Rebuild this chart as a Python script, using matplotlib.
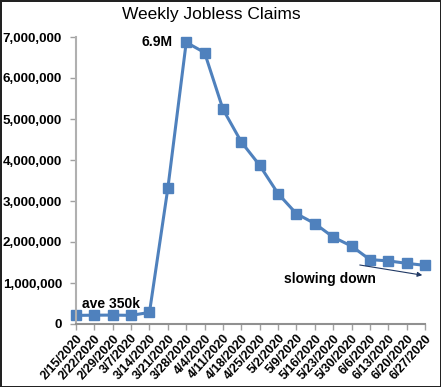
import matplotlib
matplotlib.use("Agg")
import matplotlib.pyplot as plt
from matplotlib.ticker import FuncFormatter

weeks = ["2/15/2020", "2/22/2020", "2/29/2020", "3/7/2020", "3/14/2020",
         "3/21/2020", "3/28/2020", "4/4/2020", "4/11/2020", "4/18/2020",
         "4/25/2020", "5/2/2020", "5/9/2020", "5/16/2020", "5/23/2020",
         "5/30/2020", "6/6/2020", "6/13/2020", "6/20/2020", "6/27/2020"]
claims = [210000, 215000, 217000, 211000, 282000,
          3310000, 6870000, 6620000, 5240000, 4440000,
          3870000, 3180000, 2690000, 2450000, 2120000,
          1900000, 1570000, 1540000, 1480000, 1430000]
y_ticks = [0, 1000000, 2000000, 3000000, 4000000, 5000000, 6000000, 7000000]

plt.rcParams["font.family"] = ["Liberation Sans", "DejaVu Sans"]

fig = plt.figure(figsize=(4.41, 3.87), dpi=100)
fig.patch.set_edgecolor("#222222")
fig.patch.set_linewidth(2)
ax = fig.add_axes([76 / 441, 63 / 387, 349 / 441, 287 / 387])

blue = "#4F81BD"
x = list(range(len(weeks)))
ax.plot(x, claims, color=blue, linewidth=2.2, marker="s", markersize=6.5,
        clip_on=False)

ax.set_xlim(0, len(weeks) - 1)
ax.set_ylim(0, 7000000)
ax.set_yticks(y_ticks)
ax.yaxis.set_major_formatter(FuncFormatter(lambda v, p: f"{int(v):,}"))
ax.set_xticks(x)
ax.set_xticklabels(weeks, rotation=48, ha="right", rotation_mode="anchor",
                   fontsize=9, fontweight="bold")
for lbl in ax.get_yticklabels():
    lbl.set_fontsize(9.6)
    lbl.set_fontweight("bold")

for side in ["top", "right"]:
    ax.spines[side].set_visible(False)
ax.spines["left"].set_color("#b0b0b0")
ax.spines["bottom"].set_color("#909090")
for side in ["left", "bottom"]:
    ax.spines[side].set_linewidth(1.5)
ax.tick_params(axis="both", color="#a0a0a0", length=4, width=1)
ax.tick_params(axis="x", pad=2)
ax.tick_params(axis="y", pad=6)

fig.text(211 / 441, 1 - 14 / 387, "Weekly Jobless Claims", ha="center",
         va="center", fontsize=12.5)

ax.annotate("6.9M", xy=(6, claims[6]), xytext=(-10, 0), textcoords="offset points",
            ha="right", va="center", fontsize=10, fontweight="bold")
ax.text(0.3, 500000, "ave 350k", ha="left", va="center", fontsize=10,
        fontweight="bold")
ax.text(11.3, 1100000, "slowing down", ha="left", va="center", fontsize=10,
        fontweight="bold")
ax.annotate("", xy=(19, 1180000), xytext=(15.3, 1450000),
            arrowprops=dict(arrowstyle="-|>", color="#1f3864", lw=0.8,
                            mutation_scale=7))

fig.savefig("out.png", dpi=100)
